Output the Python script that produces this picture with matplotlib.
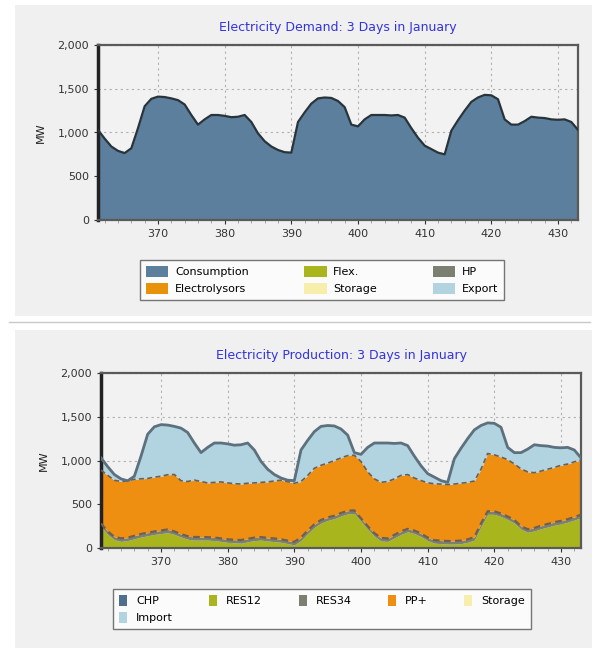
import numpy as np
import matplotlib
matplotlib.use("Agg")
from matplotlib import pyplot as plt
from matplotlib.patches import Patch, Rectangle
from matplotlib.ticker import FuncFormatter, MultipleLocator

# Hours shown (3 days in January)
hours = np.arange(361, 434)

# Electricity demand (MW)
consumption = [1030, 930, 840, 790, 765, 820, 1050, 1300, 1385, 1410,
               1405, 1390, 1370, 1320, 1200, 1090, 1150, 1200, 1200, 1190,
               1175, 1180, 1200, 1120, 990, 900, 840, 800, 775, 770,
               1120, 1230, 1330, 1390, 1400, 1395, 1360, 1290, 1090, 1070,
               1150, 1200, 1200, 1200, 1195, 1200, 1170, 1050, 940, 850,
               810, 770, 750, 1020, 1140, 1250, 1350, 1400, 1430, 1425,
               1380, 1150, 1090, 1090, 1130, 1180, 1170, 1165, 1150, 1145,
               1150, 1120, 1030]

# Electricity production (MW)
res12 = [245, 155, 95, 75, 85, 105, 125, 140, 155, 165,
         175, 155, 125, 100, 90, 90, 90, 85, 75, 65,
         60, 55, 70, 85, 90, 80, 73, 65, 50, 35,
         85, 165, 235, 285, 315, 335, 365, 390, 395, 305,
         215, 135, 80, 75, 115, 155, 185, 165, 130, 85,
         55, 50, 45, 45, 50, 65, 90, 245, 385, 385,
         360, 325, 285, 215, 180, 195, 220, 240, 260, 275,
         295, 320, 345]
res34 = [35, 36, 34, 35, 33, 35, 36, 35, 34, 35,
         37, 35, 34, 35, 36, 35, 34, 35, 35, 34,
         35, 36, 35, 34, 35, 35, 36, 35, 34, 35,
         35, 34, 36, 35, 35, 34, 35, 36, 35, 34,
         35, 35, 36, 34, 35, 35, 34, 35, 36, 35,
         34, 35, 35, 36, 35, 34, 35, 36, 35, 34,
         35, 35, 36, 34, 35, 35, 34, 35, 36, 35,
         34, 35, 35]
pp_plus = [610, 640, 645, 650, 650, 645, 630, 620, 620, 620,
           625, 650, 610, 625, 650, 635, 620, 630, 645, 645,
           640, 640, 635, 625, 625, 640, 657, 675, 675, 670,
           640, 630, 640, 625, 620, 630, 630, 630, 630, 650,
           620, 620, 635, 650, 640, 640, 620, 600, 605, 625,
           645, 645, 645, 650, 655, 650, 640, 620, 660, 645,
           645, 650, 640, 655, 655, 630, 625, 625, 625, 635,
           630, 630, 625]

demand_names = ["Consumption", "Electrolysors", "Flex.", "Storage", "HP", "Export"]
demand_colors = ["#5b7f9c", "#e8920c", "#a9b51c", "#f6eeaa", "#7c8070", "#b2d3e0"]
prod_names = ["CHP", "Import", "RES12", "RES34", "PP+", "Storage"]
prod_colors = ["#4f6f8c", "#b2d3e0", "#a9b51c", "#7c8070", "#ef8f12", "#f6eeaa"]

cons = np.array(consumption)
r12 = np.array(res12)
r34 = np.array(res34)
pp = np.array(pp_plus)
imports = np.clip(cons - (r12 + r34 + pp), 0, None)

fig = plt.figure(figsize=(5.96, 6.48), dpi=100)
fig.patch.set_facecolor("white")

# panel backgrounds and separator
fig.patches.append(Rectangle((0.025, 1 - 316 / 648), 0.968, 311 / 648, transform=fig.transFigure,
                             facecolor="#f0f0f0", edgecolor="none", zorder=-5))
fig.patches.append(Rectangle((0.025, 0.0), 0.968, 318 / 648, transform=fig.transFigure,
                             facecolor="#f0f0f0", edgecolor="none", zorder=-5))
fig.lines.append(plt.Line2D([0.015, 0.99], [1 - 322 / 648] * 2, transform=fig.transFigure,
                            color="#c8c8c8", lw=1))

fmt = FuncFormatter(lambda v, p: f"{int(v):,}")


def style_axes(ax):
    ax.set_facecolor("#f2f2f2")
    ax.set_xlim(361, 433)
    ax.set_ylim(0, 2000)
    ax.xaxis.set_major_locator(MultipleLocator(10))
    ax.xaxis.set_minor_locator(MultipleLocator(2))
    ax.yaxis.set_major_locator(MultipleLocator(500))
    ax.yaxis.set_major_formatter(fmt)
    ax.grid(True, which="major", color="#b0b0b0", linestyle=(0, (2, 3)), lw=0.8)
    ax.tick_params(labelsize=8, colors="#333333", length=3)
    ax.tick_params(which="minor", length=2, colors="#999999")
    for s in ax.spines.values():
        s.set_color("#5a5a5a")
        s.set_linewidth(1.6)
    ax.spines["left"].set_color("#222222")
    ax.spines["left"].set_linewidth(2.5)
    ax.set_ylabel("MW", fontsize=8, color="#222222", labelpad=8)


# Demand chart
ax1 = fig.add_axes([98 / 596, 1 - 220 / 648, 480 / 596, 175 / 648])
ax1.fill_between(hours, 0, cons, color=demand_colors[0], lw=0, zorder=2)
ax1.plot(hours, cons, color="#28343a", lw=1.6, zorder=3)
style_axes(ax1)
ax1.set_title("Electricity Demand: 3 Days in January", fontsize=9, color="#3333dd", pad=10)

handles = [Patch(facecolor=c, edgecolor="none", label=n) for n, c in zip(demand_names, demand_colors)]
fig.legend(handles=handles, ncol=3, loc="center", bbox_to_anchor=(322 / 596, 1 - 280 / 648),
           fontsize=8, frameon=True, fancybox=False, edgecolor="#555555", facecolor="white",
           handlelength=2.0, handleheight=1.2, handletextpad=0.6, columnspacing=5.0,
           labelspacing=0.5, borderpad=0.55)

# Production chart
ax2 = fig.add_axes([101 / 596, 1 - 548 / 648, 480 / 596, 175 / 648])
base1 = r12
base2 = base1 + r34
base3 = base2 + pp
base4 = base3 + imports
ax2.fill_between(hours, 0, base1, color=prod_colors[2], lw=0, zorder=2)
ax2.fill_between(hours, base1, base2, color=prod_colors[3], lw=0, zorder=2)
ax2.fill_between(hours, base2, base3, color=prod_colors[4], lw=0, zorder=2)
ax2.fill_between(hours, base3, base4, color=prod_colors[1], lw=0, zorder=2)
ax2.plot(hours, base2, color="#6e6050", lw=1.6, ls=(0, (3, 2)), zorder=3)
ax2.plot(hours, base3, color="#6e6050", lw=1.2, ls=(0, (3, 2)), zorder=3)
ax2.plot(hours, base4, color="#5c707e", lw=2.0, zorder=3)
style_axes(ax2)
ax2.set_title("Electricity Production: 3 Days in January", fontsize=9, color="#3333dd", pad=10)

handles2 = [Patch(facecolor=c, edgecolor="none", label=n) for n, c in zip(prod_names, prod_colors)]
fig.legend(handles=handles2, ncol=5, loc="center", bbox_to_anchor=(322 / 596, 1 - 609 / 648),
           fontsize=8, frameon=True, fancybox=False, edgecolor="#555555", facecolor="white",
           handlelength=0.7, handleheight=1.2, handletextpad=0.8, columnspacing=3.3,
           labelspacing=0.45, borderpad=0.55)

fig.savefig("out.png", dpi=100)
